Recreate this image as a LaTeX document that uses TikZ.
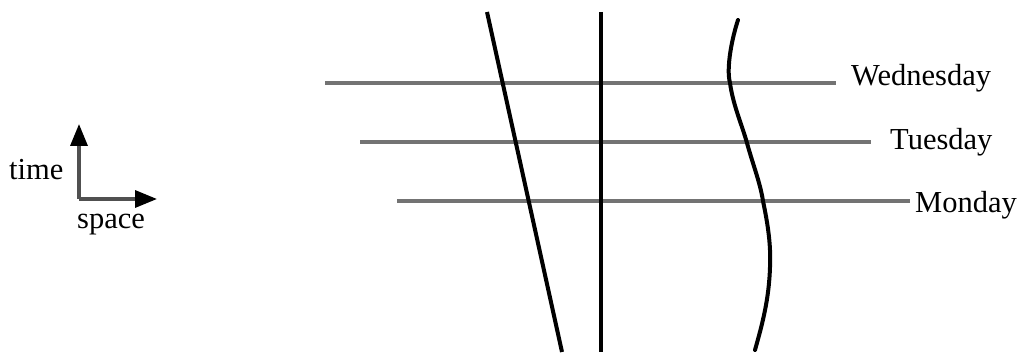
\documentclass[tikz,border=0pt]{standalone}
\usepackage{fontspec}
\setmainfont{Liberation Serif}
\usetikzlibrary{arrows.meta}
\begin{document}
\begin{tikzpicture}[x=1pt,y=-1pt,
  daylab/.style={inner sep=0pt,anchor=base west,font=\fontsize{30.5}{33}\selectfont},
  dayline/.style={draw={rgb,255:red,115;green,115;blue,115},line width=3.6pt},
  worldline/.style={draw=black,line width=4pt},
  axis/.style={draw={rgb,255:red,80;green,80;blue,80},line width=3.4pt,-{Triangle[length=22pt,width=17pt,fill=black,color=black]}}]
\useasboundingbox (0,0) rectangle (1025,358);
% day lines
\coordinate (w1) at (325,83); \coordinate (w2) at (836,83);
\coordinate (t1) at (360,142); \coordinate (t2) at (871,142);
\coordinate (m1) at (397,201); \coordinate (m2) at (910,201);
\node[daylab] (wed) at (851,86) {Wednesday};
\node[daylab] (tue) at (890,150) {Tuesday};
\node[daylab] (mon) at (915,212) {Monday};
\draw[dayline] (w1) -- (w2);
\draw[dayline] (t1) -- (t2);
\draw[dayline] (m1) -- (m2);
% world lines
\coordinate (a1) at (487,12); \coordinate (a2) at (562,352);
\coordinate (b1) at (601,12); \coordinate (b2) at (601,352);
\draw[worldline] (a1) -- (a2);
\draw[worldline] (b1) -- (b2);
\coordinate (c1) at (738,20);
\coordinate (c2) at (730,83);
\coordinate (c3) at (747,143);
\coordinate (c4) at (763,201);
\coordinate (c5) at (770,267);
\coordinate (c6) at (755,350);
\draw[worldline,line cap=round] (c1) .. controls (732,38) and (726,68) .. (c2)
  .. controls (733,105) and (742,125) .. (c3)
  .. controls (753,165) and (760,182) .. (c4)
  .. controls (768,225) and (771,245) .. (c5)
  .. controls (769,300) and (762,325) .. (c6);
% axes
\coordinate (o) at (79,199);
\coordinate (up) at (79,124);
\coordinate (right) at (157,199);
\draw[axis] (o) -- (up);
\draw[axis] (o) -- (right);
\node[daylab] (time) at (9,180) {time};
\node[daylab] (space) at (77,229) {space};
\end{tikzpicture}
\end{document}
